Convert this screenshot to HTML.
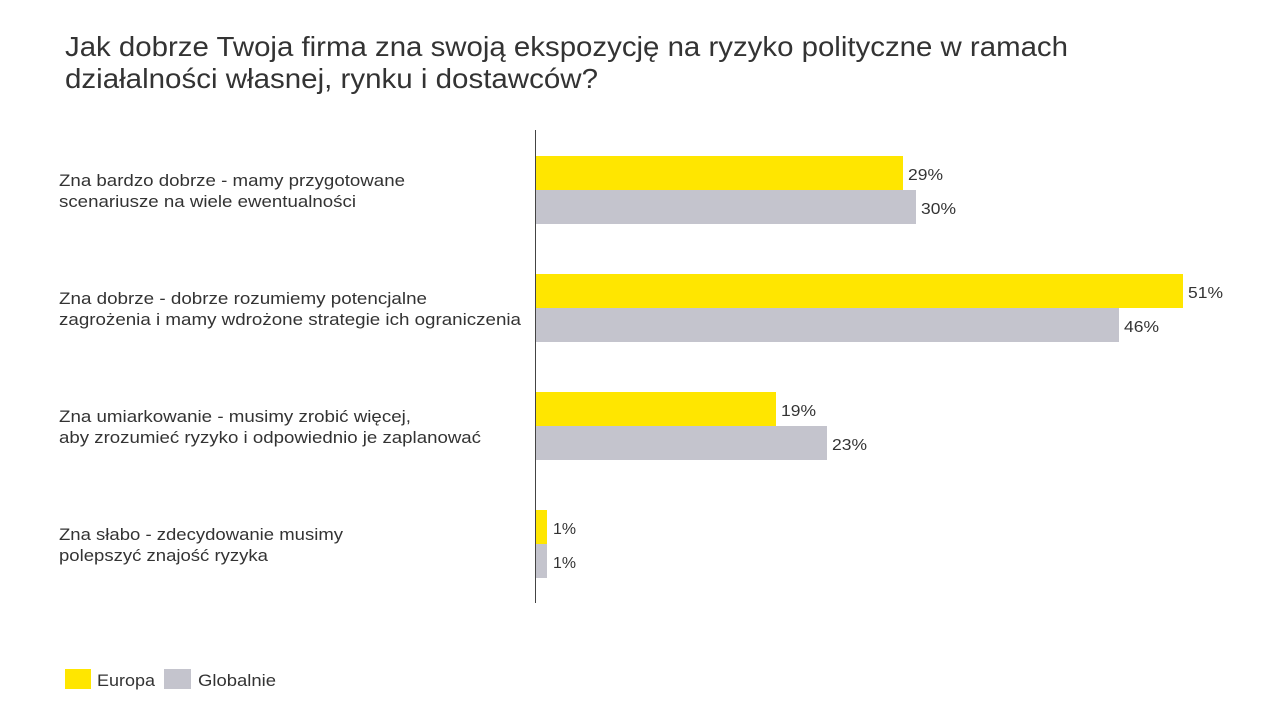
<!DOCTYPE html>
<html><head><meta charset="utf-8"><style>
html,body{margin:0;padding:0;background:#fff;}
svg{display:block;}
text{font-family:"Liberation Sans",sans-serif;fill:#333;}
</style></head><body>
<svg width="1281" height="720" viewBox="0 0 1281 720" xmlns="http://www.w3.org/2000/svg">
<text x="65" y="56" font-size="28" textLength="1003" lengthAdjust="spacingAndGlyphs">Jak dobrze Twoja firma zna swoją ekspozycję na ryzyko polityczne w ramach</text>
<text x="65" y="88" font-size="28" textLength="533" lengthAdjust="spacingAndGlyphs">działalności własnej, rynku i dostawców?</text>

<g font-size="17">
<text x="59" y="186" textLength="346" lengthAdjust="spacingAndGlyphs">Zna bardzo dobrze - mamy przygotowane</text>
<text x="59" y="207" textLength="297" lengthAdjust="spacingAndGlyphs">scenariusze na wiele ewentualności</text>
<text x="59" y="304" textLength="368" lengthAdjust="spacingAndGlyphs">Zna dobrze - dobrze rozumiemy potencjalne</text>
<text x="59" y="325" textLength="462" lengthAdjust="spacingAndGlyphs">zagrożenia i mamy wdrożone strategie ich ograniczenia</text>
<text x="59" y="422" textLength="352" lengthAdjust="spacingAndGlyphs">Zna umiarkowanie - musimy zrobić więcej,</text>
<text x="59" y="443" textLength="422" lengthAdjust="spacingAndGlyphs">aby zrozumieć ryzyko i odpowiednio je zaplanować</text>
<text x="59" y="540" textLength="284" lengthAdjust="spacingAndGlyphs">Zna słabo - zdecydowanie musimy</text>
<text x="59" y="561" textLength="209" lengthAdjust="spacingAndGlyphs">polepszyć znajość ryzyka</text>
</g>

<rect x="535" y="156" width="368" height="34" fill="#FFE600"/>
<rect x="535" y="190" width="381" height="34" fill="#C4C4CD"/>
<rect x="535" y="274" width="648" height="34" fill="#FFE600"/>
<rect x="535" y="308" width="584" height="34" fill="#C4C4CD"/>
<rect x="535" y="392" width="241" height="34" fill="#FFE600"/>
<rect x="535" y="426" width="292" height="34" fill="#C4C4CD"/>
<rect x="535" y="510" width="12" height="34" fill="#FFE600"/>
<rect x="535" y="544" width="12" height="34" fill="#C4C4CD"/>
<line x1="535.5" y1="130" x2="535.5" y2="603" stroke="#444" stroke-width="1"/>

<g font-size="16">
<text x="908" y="180" textLength="35" lengthAdjust="spacingAndGlyphs">29%</text>
<text x="921" y="214" textLength="35" lengthAdjust="spacingAndGlyphs">30%</text>
<text x="1188" y="298" textLength="35" lengthAdjust="spacingAndGlyphs">51%</text>
<text x="1124" y="332" textLength="35" lengthAdjust="spacingAndGlyphs">46%</text>
<text x="781" y="416" textLength="35" lengthAdjust="spacingAndGlyphs">19%</text>
<text x="832" y="450" textLength="35" lengthAdjust="spacingAndGlyphs">23%</text>
<text x="553" y="534" textLength="23" lengthAdjust="spacingAndGlyphs">1%</text>
<text x="553" y="568" textLength="23" lengthAdjust="spacingAndGlyphs">1%</text>
</g>

<rect x="65" y="669" width="26" height="20" fill="#FFE600"/>
<text x="97" y="686" font-size="17" textLength="58" lengthAdjust="spacingAndGlyphs">Europa</text>
<rect x="164" y="669" width="27" height="20" fill="#C4C4CD"/>
<text x="198" y="686" font-size="17" textLength="78" lengthAdjust="spacingAndGlyphs">Globalnie</text>
</svg>
</body></html>
